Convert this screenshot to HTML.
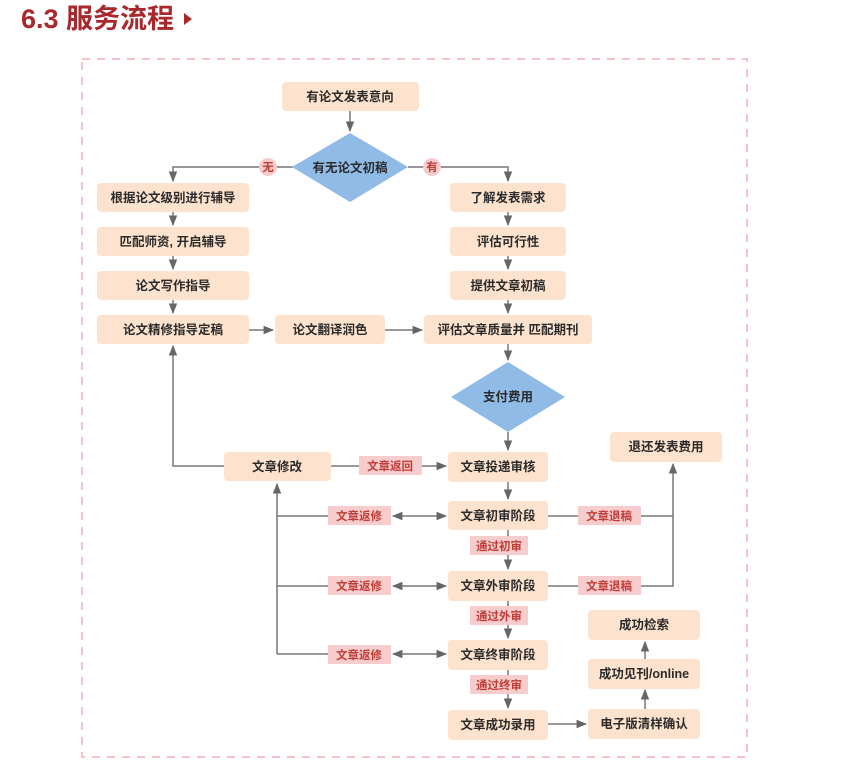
<!DOCTYPE html>
<html><head><meta charset="utf-8"><style>
body{margin:0;background:#fff;width:860px;height:766px;overflow:hidden}
svg{display:block}
text{font-family:"Liberation Sans","Noto Sans CJK SC",sans-serif;font-weight:bold}
</style></head><body>
<svg width="860" height="766" viewBox="0 0 860 766" xmlns="http://www.w3.org/2000/svg">
<defs>
<marker id="a" viewBox="0 0 10 10" refX="9" refY="5" markerWidth="7" markerHeight="7" orient="auto-start-reverse"><path d="M0,1 L10,5 L0,9 z" fill="#666"/></marker>
</defs>
<text x="21" y="28" font-size="27" fill="#a8282c">6.3 服务流程</text>
<path d="M184,13 L192,19 L184,25 z" fill="#a8282c"/>
<rect x="82" y="59" width="665" height="698" fill="none" stroke="#f6c4c6" stroke-width="2" stroke-dasharray="8,7"/>

<g stroke="#777" stroke-width="1.5" fill="none">
<line x1="350" y1="111" x2="350" y2="131" marker-end="url(#a)"/>
<polyline points="293,167 173,167 173,181" marker-end="url(#a)"/>
<polyline points="408,167 508,167 508,181" marker-end="url(#a)"/>
<line x1="173" y1="212" x2="173" y2="225" marker-end="url(#a)"/>
<line x1="173" y1="256" x2="173" y2="269" marker-end="url(#a)"/>
<line x1="173" y1="300" x2="173" y2="313" marker-end="url(#a)"/>
<line x1="508" y1="212" x2="508" y2="225" marker-end="url(#a)"/>
<line x1="508" y1="256" x2="508" y2="269" marker-end="url(#a)"/>
<line x1="508" y1="300" x2="508" y2="313" marker-end="url(#a)"/>
<line x1="249" y1="330" x2="273" y2="330" marker-end="url(#a)"/>
<line x1="385" y1="330" x2="422" y2="330" marker-end="url(#a)"/>
<line x1="508" y1="344" x2="508" y2="360" marker-end="url(#a)"/>
<line x1="508" y1="432" x2="508" y2="450" marker-end="url(#a)"/>
<polyline points="224,466 173,466 173,346" marker-end="url(#a)"/>
<line x1="331" y1="466" x2="446" y2="466" marker-end="url(#a)"/>
<line x1="508" y1="482" x2="508" y2="499" marker-end="url(#a)"/>
<line x1="508" y1="530" x2="508" y2="569" marker-end="url(#a)"/>
<line x1="508" y1="601" x2="508" y2="638" marker-end="url(#a)"/>
<line x1="508" y1="670" x2="508" y2="708" marker-end="url(#a)"/>
<polyline points="277,654 277,484" marker-end="url(#a)"/>
<line x1="277" y1="516" x2="328" y2="516"/>
<line x1="277" y1="586" x2="328" y2="586"/>
<line x1="277" y1="654" x2="328" y2="654"/>
<line x1="393" y1="516" x2="446" y2="516" marker-start="url(#a)" marker-end="url(#a)"/>
<line x1="393" y1="586" x2="446" y2="586" marker-start="url(#a)" marker-end="url(#a)"/>
<line x1="393" y1="654" x2="446" y2="654" marker-start="url(#a)" marker-end="url(#a)"/>
<line x1="548" y1="516" x2="578" y2="516"/>
<line x1="548" y1="586" x2="578" y2="586"/>
<polyline points="641,516 673,516"/>
<polyline points="641,586 673,586 673,464" marker-end="url(#a)"/>
<line x1="548" y1="724" x2="586" y2="724" marker-end="url(#a)"/>
<line x1="645" y1="709" x2="645" y2="690" marker-end="url(#a)"/>
<line x1="645" y1="659" x2="645" y2="642" marker-end="url(#a)"/>
</g>

<g fill="#fde3cd">
<rect x="282" y="82" width="137" height="29" rx="4"/>
<rect x="97" y="183" width="152" height="29" rx="4"/>
<rect x="97" y="227" width="152" height="29" rx="4"/>
<rect x="97" y="271" width="152" height="29" rx="4"/>
<rect x="97" y="315" width="152" height="29" rx="4"/>
<rect x="275" y="315" width="110" height="29" rx="4"/>
<rect x="450" y="183" width="116" height="29" rx="4"/>
<rect x="450" y="227" width="116" height="29" rx="4"/>
<rect x="450" y="271" width="116" height="29" rx="4"/>
<rect x="424" y="315" width="168" height="29" rx="4"/>
<rect x="224" y="452" width="107" height="29" rx="4"/>
<rect x="448" y="452" width="100" height="30" rx="4"/>
<rect x="448" y="501" width="100" height="29" rx="4"/>
<rect x="448" y="571" width="100" height="30" rx="4"/>
<rect x="448" y="640" width="100" height="30" rx="4"/>
<rect x="448" y="710" width="100" height="30" rx="4"/>
<rect x="610" y="432" width="112" height="30" rx="4"/>
<rect x="588" y="610" width="112" height="30" rx="4"/>
<rect x="588" y="659" width="112" height="30" rx="4"/>
<rect x="588" y="709" width="112" height="30" rx="4"/>
</g>
<g fill="#8fbbe6">
<path d="M350,133 L408,167 L350,202 L292,167 z"/>
<path d="M508,362 L565,397 L508,432 L451,397 z"/>
</g>
<g fill="#f7cccd">
<circle cx="268" cy="167" r="9"/><circle cx="432" cy="167" r="9"/>
<rect x="359" y="456" width="63" height="19"/>
<rect x="328" y="506" width="63" height="19"/>
<rect x="328" y="576" width="63" height="19"/>
<rect x="328" y="645" width="63" height="19"/>
<rect x="578" y="506" width="63" height="19"/>
<rect x="578" y="576" width="63" height="19"/>
<rect x="470" y="536" width="58" height="19"/>
<rect x="470" y="606" width="58" height="19"/>
<rect x="470" y="675" width="58" height="19"/>
</g>

<g font-size="12.5" fill="#2b2b2b" text-anchor="middle">
<text x="350" y="101">有论文发表意向</text>
<text x="350" y="172">有无论文初稿</text>
<text x="173" y="202">根据论文级别进行辅导</text>
<text x="173" y="246">匹配师资, 开启辅导</text>
<text x="173" y="290">论文写作指导</text>
<text x="173" y="334">论文精修指导定稿</text>
<text x="330" y="334">论文翻译润色</text>
<text x="508" y="202">了解发表需求</text>
<text x="508" y="246">评估可行性</text>
<text x="508" y="290">提供文章初稿</text>
<text x="508" y="334">评估文章质量并 匹配期刊</text>
<text x="508" y="401">支付费用</text>
<text x="277" y="471">文章修改</text>
<text x="498" y="471">文章投递审核</text>
<text x="498" y="520">文章初审阶段</text>
<text x="498" y="590">文章外审阶段</text>
<text x="498" y="659">文章终审阶段</text>
<text x="498" y="729">文章成功录用</text>
<text x="666" y="451">退还发表费用</text>
<text x="644" y="629">成功检索</text>
<text x="644" y="678">成功见刊/online</text>
<text x="644" y="728">电子版清样确认</text>
</g>
<g font-size="11.5" fill="#c23b34" text-anchor="middle" font-weight="normal">
<text x="268" y="171">无</text><text x="432" y="171">有</text>
<text x="390" y="470">文章返回</text>
<text x="359" y="520">文章返修</text>
<text x="359" y="590">文章返修</text>
<text x="359" y="659">文章返修</text>
<text x="609" y="520">文章退稿</text>
<text x="609" y="590">文章退稿</text>
<text x="499" y="550">通过初审</text>
<text x="499" y="620">通过外审</text>
<text x="499" y="689">通过终审</text>
</g>
</svg>
</body></html>
